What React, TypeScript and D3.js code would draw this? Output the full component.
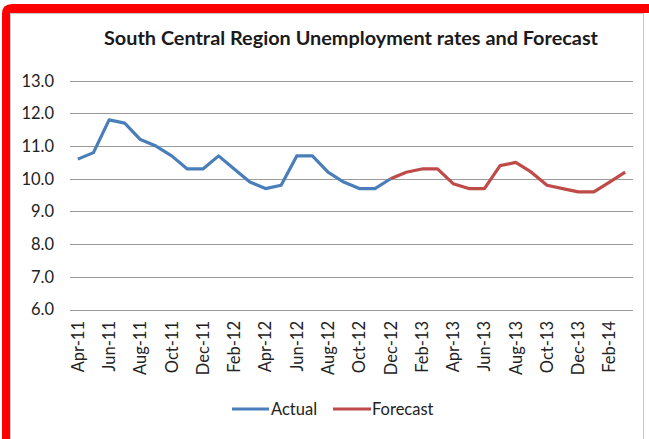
import React from "react";
import * as d3 from "d3";

const months = [
  "Apr-11","May-11","Jun-11","Jul-11","Aug-11","Sep-11","Oct-11","Nov-11","Dec-11",
  "Jan-12","Feb-12","Mar-12","Apr-12","May-12","Jun-12","Jul-12","Aug-12","Sep-12","Oct-12","Nov-12","Dec-12",
  "Jan-13","Feb-13","Mar-13","Apr-13","May-13","Jun-13","Jul-13","Aug-13","Sep-13","Oct-13","Nov-13","Dec-13",
  "Jan-14","Feb-14","Mar-14",
];
const actualMonths = months.slice(0, 21);
const actualValues = [10.6, 10.8, 11.8, 11.7, 11.2, 11.0, 10.7, 10.3, 10.3, 10.7, 10.3, 9.9, 9.7, 9.8, 10.7, 10.7, 10.2, 9.9, 9.7, 9.7, 10.0];
const forecastMonths = months.slice(20);
const forecastValues = [10.0, 10.2, 10.3, 10.3, 9.85, 9.7, 9.7, 10.4, 10.5, 10.2, 9.8, 9.7, 9.6, 9.6, 9.9, 10.2];
const yTicks = [6, 7, 8, 9, 10, 11, 12, 13];
const tickLabels = months.filter((_, i) => i % 2 === 0);

const FONT = "Lato, 'Open Sans', sans-serif";

export default function App() {
  const x = d3.scaleBand().domain(months).range([70, 633]);
  const y = d3.scaleLinear().domain([6, 13]).range([309.5, 80.7]);
  const cx = (m: string) => (x(m) as number) + x.bandwidth() / 2;
  const line = d3
    .line<[string, number]>()
    .x((d) => cx(d[0]))
    .y((d) => y(d[1]));
  const actual = actualMonths.map((m, i) => [m, actualValues[i]] as [string, number]);
  const forecast = forecastMonths.map((m, i) => [m, forecastValues[i]] as [string, number]);

  return (
    <svg
      width={649}
      height={439}
      style={{ position: "absolute", left: 0, top: 0, background: "#fff" }}
      fontFamily={FONT}
    >
      <rect x={0} y={0} width={649} height={439} fill="#fff" />
      <rect x={10.5} y={13.5} width={633} height={430} fill="none" stroke="#c8c8c8" strokeWidth={1} />
      <path d="M2,439 L2,14 Q2,4 12,4 L649,4 L649,13 L10,13 L10,439 Z" fill="#ff0000" />

      <text
        x={351}
        y={45}
        textAnchor="middle"
        fontSize={18}
        fontWeight="bold"
        fill="#1a1a1a"
        textLength={494}
        lengthAdjust="spacingAndGlyphs"
      >
        South Central Region Unemployment rates and Forecast
      </text>

      {yTicks.map((t) => (
        <g key={t}>
          <line x1={70} x2={633} y1={Math.round(y(t)) + 0.5} y2={Math.round(y(t)) + 0.5} stroke="#9a9a9a" strokeWidth={1} />
          <text x={54} y={y(t)} dy="0.36em" textAnchor="end" fontSize={16.5} fill="#222">
            {t.toFixed(1)}
          </text>
        </g>
      ))}

      {tickLabels.map((m) => (
        <text
          key={m}
          transform={`translate(${cx(m)},321) rotate(-90)`}
          dy="0.36em"
          textAnchor="end"
          fontSize={16.5}
          fill="#222"
        >
          {m}
        </text>
      ))}

      <path d={line(actual) || ""} fill="none" stroke="#4a7ebb" strokeWidth={3.2} strokeLinejoin="round" />
      <path d={line(forecast) || ""} fill="none" stroke="#be4b48" strokeWidth={3.2} strokeLinejoin="round" />

      <line x1={232} x2={269} y1={409} y2={409} stroke="#4a7ebb" strokeWidth={3.2} />
      <text x={271} y={409} dy="0.36em" fontSize={16.5} fill="#222">Actual</text>
      <line x1={333} x2={371} y1={409} y2={409} stroke="#be4b48" strokeWidth={3.2} />
      <text x={372} y={409} dy="0.36em" fontSize={16.5} fill="#222">Forecast</text>
    </svg>
  );
}
